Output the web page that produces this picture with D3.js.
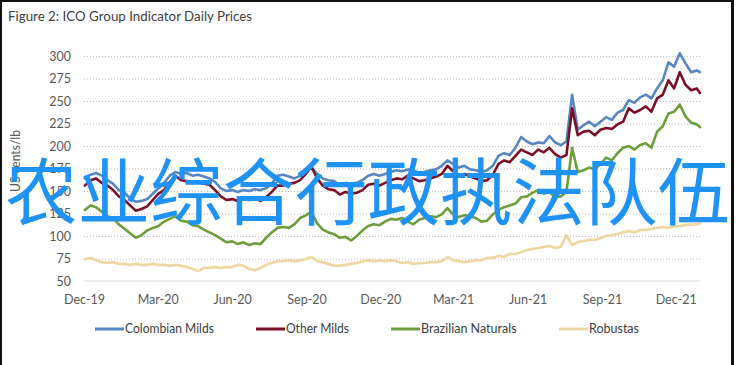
<!DOCTYPE html>
<html><head><meta charset="utf-8">
<script src="https://cdn.jsdelivr.net/npm/d3@7"></script>
<style>body{margin:0;background:#fff}svg{display:block}</style>
</head><body>
<svg id="c" width="736" height="365"></svg>
<script>
// ---------- data ----------
const titleText = "Figure 2: ICO Group Indicator Daily Prices";
const yAxisTitle = "US cents/lb";
const overlayText = "农业综合行政执法队伍";
const seriesNames = ["Colombian Milds", "Other Milds", "Brazilian Naturals", "Robustas"];
const firstWeek = "2019-12-02";   // weekly observations start
const lastDay = "2021-12-31";     // final observation
const colombianMilds = [
 164,168,170,167,162,158,151,148,142,138,
 139,141,147,153,159,167,171,169,170,167,
 168,166,164,160,153,150,151,149,151,150,
 152,151,153,158,167,168,166,164,167,171,
 176,169,164,162,161,156,159,158,159,162,
 167,169,167,169,171,173,172,174,173,170,
 171,173,174,178,184,180,176,178,174,173,
 171,173,178,189,192,190,198,210,205,202,
 204,203,211,204,201,205,257,218,223,227,
 222,227,232,229,237,240,251,248,254,257,
 253,264,273,293,288,303,292,282,284,
 282];
const otherMilds = [
 156,162,164,159,156,151,144,140,134,128,
 130,133,140,147,151,160,167,162,161,159,
 160,158,157,151,144,140,141,139,142,140,
 142,139,143,149,156,156,158,159,162,169,
 177,164,156,152,151,146,149,147,148,151,
 157,158,156,159,162,164,163,167,164,161,
 162,164,166,169,178,172,167,169,166,164,
 161,162,168,180,184,182,189,196,193,190,
 196,193,198,191,187,190,242,212,216,217,
 212,218,220,219,224,227,242,237,240,244,
 238,253,257,273,264,282,268,262,264,
 259];
const brazilianNaturals = [
 129,134,132,127,122,120,113,108,103,98,
 101,106,109,111,116,119,122,117,116,112,
 111,107,104,101,97,93,94,91,93,90,
 92,91,98,104,109,110,109,113,120,123,
 127,114,107,104,102,98,99,95,100,106,
 111,113,112,116,119,118,120,116,113,118,
 120,122,121,124,131,124,121,123,122,120,
 116,117,124,129,132,134,136,143,144,148,
 151,147,149,143,144,149,198,171,173,176,
 174,180,187,184,192,198,200,196,201,203,
 198,216,222,236,238,246,233,226,224,
 221];
const robustas = [
 74.4,75.6,73,71,70,71,69,69,68,69,
 68,68,69,68,68,67,68,67,65.5,63.3,
 61,64.5,64.5,65.5,64.5,65.5,65.5,68,67,63.3,
 62,64.5,68,70,72,72,73,72,73,74.4,
 76.7,72,71,69,67,67,68,69,70,72,
 73,72,73,72,73,72,70,71,69,70,
 70,71,71,72,76.7,73,72,71,72,73,
 73,75.6,75.6,78,76.7,80,80,82,84.4,85.6,
 86.7,87.8,89,86.7,88,101,90,93,94.4,95.6,
 95.6,97.8,100,101,102,104,105.6,104,106.7,106.7,
 108,109,110,109,111,111,112,113,113,
 114];
const yTicks = [50, 75, 100, 125, 150, 175, 200, 225, 250, 275, 300];
const xTickLabels = ["Dec-19","Mar-20","Jun-20","Sep-20","Dec-20","Mar-21","Jun-21","Sep-21","Dec-21"];
const xTickDates = ["2019-12-01","2020-03-01","2020-06-01","2020-09-01","2020-12-01","2021-03-01","2021-06-01","2021-09-01","2021-12-01"];
const seriesColors = ["#5787c3", "#7a1028", "#6c9f3c", "#efd7a2"];

// ---------- chart ----------
(function () {
const parse = d3.utcParse("%Y-%m-%d");
const allSeries = [colombianMilds, otherMilds, brazilianNaturals, robustas];
const nWeeks = colombianMilds.length - 1;
const dates = d3.range(nWeeks).map(i => d3.utcDay.offset(parse(firstWeek), 7 * i)).concat([parse(lastDay)]);

const svg = d3.select("#c");
const font = "Lato, 'Open Sans', sans-serif";
const pL = 84, pR = 700, pT = 56, pB = 281;

const x = d3.scaleUtc().domain([parse("2019-12-01"), parse("2021-12-31")]).range([pL, pR]);
const y = d3.scaleLinear().domain([50, 300]).range([pB, pT]);

function fit(sel, w) {
  const L = sel.node().getComputedTextLength();
  if (Math.abs(L - w) > 1) sel.attr("textLength", w).attr("lengthAdjust", "spacingAndGlyphs");
}

// frame
svg.append("rect").attr("x", 0).attr("y", 0).attr("width", 736).attr("height", 365).attr("fill", "#fff");
svg.append("rect").attr("x", 0).attr("y", 0).attr("width", 734).attr("height", 2).attr("fill", "#111");
svg.append("rect").attr("x", 0).attr("y", 0).attr("width", 2).attr("height", 365).attr("fill", "#111");
svg.append("rect").attr("x", 731).attr("y", 0).attr("width", 3).attr("height", 365).attr("fill", "#111");

// title
const t = svg.append("text").attr("x", 8).attr("y", 21).attr("font-family", font)
  .attr("font-size", 13.5).attr("fill", "#404040").text(titleText);
fit(t, 244);

// grid
const grid = svg.append("g").attr("transform", `translate(${pL},0)`)
  .call(d3.axisLeft(y).tickValues(yTicks.filter(v => v !== 50)).tickSize(-(pR - pL)).tickFormat(""));
grid.select(".domain").remove();
grid.selectAll("line").attr("stroke", "#bdbdbd").attr("stroke-width", 1).attr("stroke-dasharray", "1,2");

// baseline axis
svg.append("line").attr("x1", pL).attr("x2", pR).attr("y1", y(50)).attr("y2", y(50))
  .attr("stroke", "#d9d9d9").attr("stroke-width", 1.2);

// y labels
const ya = svg.append("g").attr("transform", `translate(${pL},0)`)
  .call(d3.axisLeft(y).tickValues(yTicks).tickSize(0).tickPadding(13));
ya.select(".domain").remove();
ya.selectAll("text").attr("font-family", font).attr("font-size", 12.5).attr("fill", "#595959");

// x labels
const xa = svg.append("g").attr("transform", `translate(0,${pB})`)
  .call(d3.axisBottom(x).tickValues(xTickDates.map(parse)).tickFormat((d, i) => xTickLabels[i]).tickSize(0).tickPadding(14));
xa.select(".domain").remove();
xa.selectAll("text").attr("font-family", font).attr("font-size", 12.5).attr("fill", "#595959");

// y title
const yt = svg.append("text").attr("transform", "translate(20,161) rotate(-90)").attr("text-anchor", "middle")
  .attr("font-family", font).attr("font-size", 12.5).attr("fill", "#595959").text(yAxisTitle);
fit(yt, 62);

// lines
const line = d3.line().x((d, i) => x(dates[i])).y(d => y(d));
allSeries.forEach((s, k) => {
  svg.append("path").datum(s).attr("d", line).attr("fill", "none")
    .attr("stroke", seriesColors[k]).attr("stroke-width", k === 3 ? 2.7 : 2.6)
    .attr("stroke-linejoin", "round").attr("stroke-linecap", "round");
});

// legend
const legendWidths = [89, 63, 96, 49];
let lx = 95;
seriesNames.forEach((name, k) => {
  svg.append("line").attr("x1", lx).attr("x2", lx + 29).attr("y1", 329).attr("y2", 329)
    .attr("stroke", seriesColors[k]).attr("stroke-width", 3);
  const tt = svg.append("text").attr("x", lx + 30).attr("y", 333).attr("font-family", font)
    .attr("font-size", 12.5).attr("fill", "#404040").text(name);
  fit(tt, legendWidths[k]);
  lx += 30 + legendWidths[k] + 42;
});

// overlay text
svg.append("text").attr("x", 5).attr("y", 219).attr("font-family", "'Noto Sans CJK SC', sans-serif")
  .attr("font-size", 72.5).attr("fill", "#1f93f5").text(overlayText);
})();
</script>
</body></html>
